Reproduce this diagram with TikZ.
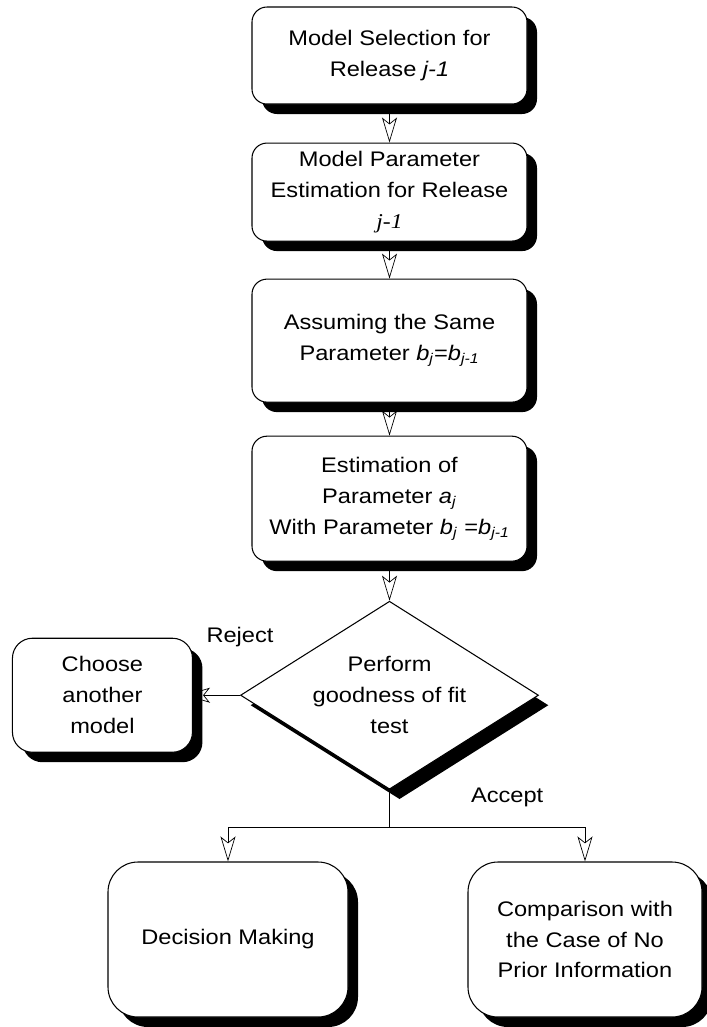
\documentclass[tikz,border=0pt]{standalone}
\usepackage{fontspec}
\setmainfont{Liberation Sans}[FakeStretch=1.12]
\newfontfamily\timesit{Liberation Serif}[FakeStretch=1.12]
\usetikzlibrary{
        arrows.meta,
        backgrounds,
        positioning,
        shadows,
        shapes.geometric
    }
\tikzset{>={Stealth[open,length=0.5cm,width=0.3cm,inset=0.12cm]},node distance=0.75cm}
\tikzset{boxfont/.style={font=\fontsize{12pt}{17.6pt}\selectfont}}
\tikzset{blackshadow/.style={general shadow={fill=black,shadow xshift=0.2cm,shadow yshift=-0.2cm}}}
\tikzset{rbox/.style={draw,fill=white,rounded corners=0.3cm,line width=0.6pt,minimum width=5.5cm,
        align=center,inner sep=0pt,boxfont,blackshadow}}
\tikzset{decision/.style={diamond,draw,fill=white,aspect=1.585,minimum width=5.96cm,minimum height=3.76cm,
        line width=0.6pt,align=center,inner sep=0pt,boxfont,blackshadow}}
\tikzset{lbl/.style={inner sep=0pt,boxfont}}

\begin{document}
\begin{tikzpicture}[line width=0.6pt]
                        \useasboundingbox (0,0) rectangle (14.14,-20.54);
                        \node[rbox,minimum height=1.94cm] (sel) at (7.79,-1.11)
                            {Model Selection for\\ Release \textit{j-1}};
                        \node[rbox,minimum height=1.96cm,below=0.76cm of sel] (est)
                            {Model Parameter\\ Estimation for Release\\ {\timesit\itshape j-1}};
                        \node[rbox,minimum height=2.46cm,below=0.74cm of est] (same)
                            {Assuming the Same\\ Parameter \textit{b}\textsubscript{\textit{j}}=\textit{b}\textsubscript{\textit{j-1}}};
                        \node[rbox,minimum height=2.5cm,below=0.66cm of same] (esta)
                            {Estimation of\\ Parameter \textit{a}\textsubscript{\textit{j}}\\
                             With Parameter \textit{b}\textsubscript{\textit{j}} =\textit{b}\textsubscript{\textit{j-1}}};
                        \node[decision,below=0.78cm of esta] (fit) {Perform\\ goodness of fit\\ test};
                        \node[rbox,minimum width=3.6cm,minimum height=2.28cm,rounded corners=0.4cm,left=0.94cm of fit] (other)
                            {Choose\\ another\\ model};
                        \coordinate[below=0.76cm of fit.south] (split);
                        \node[rbox,minimum width=4.8cm,minimum height=3.1cm,rounded corners=0.6cm] (decide) at (4.56,-18.79)
                            {Decision Making};
                        \node[rbox,minimum width=4.68cm,minimum height=3.1cm,rounded corners=0.6cm] (compare) at (11.7,-18.79)
                            {Comparison with\\ the Case of No\\ Prior Information};
                        \node[lbl,above=0.96cm of fit.west] (reject) {Reject};
                        \node[lbl,above right=0.4cm and 1.62cm of split] (accept) {Accept};
                        \begin{scope}[on background layer]
                        \path[->]
                            (sel)  edge  (est)
                            (est)  edge  (same)
                            (same) edge  (esta)
                            (esta) edge  (fit)
                            (fit)  edge[shorten >=-0.16cm]  (other);
                        \draw (fit.south) -- (split);
                        \draw[->] (split) -| (decide);
                        \draw[->] (split) -| (compare);
                        \end{scope}
                    \end{tikzpicture}
\end{document}
